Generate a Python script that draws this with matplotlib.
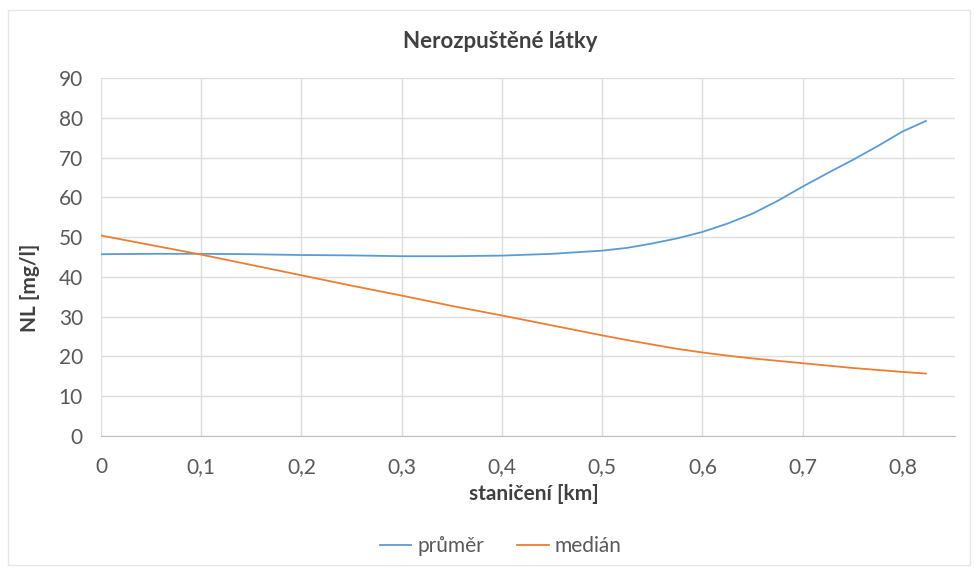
import numpy as np
import matplotlib.pyplot as plt
from matplotlib.patches import Rectangle
from matplotlib.ticker import FuncFormatter

plt.rcParams['font.family'] = ['Lato', 'DejaVu Sans']

# staniceni [km] and values
km = [0, 0.05, 0.1, 0.15, 0.2, 0.25, 0.3, 0.35, 0.4, 0.45, 0.5, 0.525, 0.55, 0.575, 0.6, 0.625,
      0.65, 0.675, 0.7, 0.725, 0.75, 0.775, 0.8, 0.823]
prumer = [45.7, 45.8, 45.8, 45.7, 45.5, 45.4, 45.2, 45.2, 45.35, 45.8, 46.6, 47.3, 48.4, 49.7, 51.3, 53.4,
          55.9, 59.1, 62.7, 66.1, 69.4, 72.9, 76.6, 79.2]
median = [50.4, 48.0, 45.6, 43.0, 40.4, 37.8, 35.3, 32.7, 30.3, 27.8, 25.3, 24.1, 23.0, 21.9, 21.0, 20.2,
          19.5, 18.9, 18.3, 17.7, 17.1, 16.6, 16.1, 15.7]

fig = plt.figure(figsize=(9.77, 5.68), dpi=100)
fig.patches.append(Rectangle((8/977, 3/568), 962/977, 555/568, transform=fig.transFigure,
                             fill=False, ec='#E6E6E6', lw=1))
ax = fig.add_axes([101/977, 132/568, 854/977, 358/568])

ax.plot(km, prumer, color='#5B9BD5', lw=1.3, label='průměr')
ax.plot(km, median, color='#ED7D31', lw=1.3, label='medián')

ax.set_xlim(0, 0.852)
ax.set_ylim(0, 90)
ax.set_xticks(np.arange(0, 0.81, 0.1))
ax.set_yticks(range(0, 91, 10))
ax.xaxis.set_major_formatter(FuncFormatter(lambda v, p: ('%g' % round(v, 1)).replace('.', ',')))
ax.grid(True, color='#DDDDDD', lw=1)
ax.set_axisbelow(True)
for s in ['top', 'right', 'left']:
    ax.spines[s].set_visible(False)
ax.spines['bottom'].set_color('#BFBFBF')
ax.tick_params(length=0, labelsize=15, colors='#595959')
ax.tick_params(axis='x', pad=15)
ax.tick_params(axis='y', pad=13)

fig.text(500/977, 1 - 42/568, 'Nerozpuštěné látky', fontsize=16, fontweight='bold', color='#404040',
         ha='center', va='center')
fig.text(534/977, 1 - 494/568, 'staničení [km]', fontsize=15, fontweight='bold', color='#404040',
         ha='center', va='center')
fig.text(30/977, 1 - 288/568, 'NL [mg/l]', fontsize=15, fontweight='bold', color='#404040',
         ha='center', va='center', rotation=90)

ax.legend(loc='center', bbox_to_anchor=(0.468, -0.308), ncol=2, frameon=False,
          fontsize=15, labelcolor='#595959', handlelength=1.5, columnspacing=1.6, handletextpad=0.3)

fig.savefig('out.png', dpi=100)
